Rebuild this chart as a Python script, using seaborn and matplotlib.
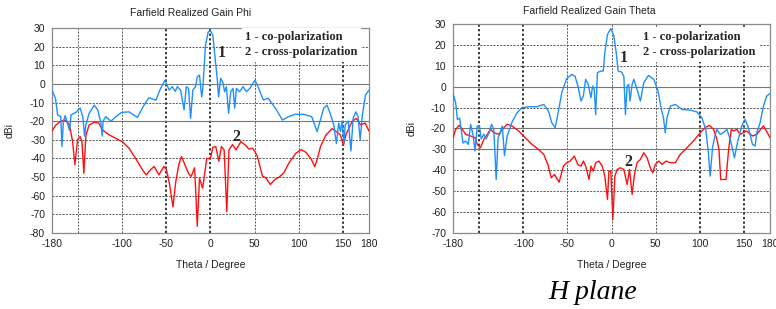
import matplotlib

matplotlib.use("Agg")
import matplotlib.pyplot as plt
import pandas as pd
import seaborn as sns

# Left panel: Farfield Realized Gain Phi
phi_co_theta = [-180, -176, -173.6, -170, -168.7, -167, -165, -162, -160, -158.5, -153, -148, -145, -143,
                -141.5, -138, -132, -128, -124.5, -123, -122, -119, -113, -107.5, -101, -92.5, -83, -75.5,
                -70, -62, -56.6, -51.7, -47, -43.4, -40, -37.7, -34, -30, -27.5, -25, -22.6, -20, -17, -15,
                -12.5, -10, -8.7, -5.7, -2.6, 0, 2.7, 5.3, 7.6, 9.2, 11.5, 14, 16, 18, 20.6, 23, 25.6, 27.5,
                29.4, 33, 37, 40.8, 44.7, 50.4, 54, 60, 65.6, 75, 81.7, 88.5, 96, 105.7, 115, 121, 124.8,
                128.6, 132.4, 136, 140, 143, 145.6, 147.6, 149.5, 151.5, 153, 156.5, 159.5, 162, 165, 167.6,
                170, 172.5, 176, 180]
phi_co_gain = [-3.3, -7.8, -16.7, -17.6, -33.6, -20, -17, -22, -25, -16.7, -15.3, -13, -17.6, -28, -22, -16,
               -11.4, -14, -21, -28, -20, -17.6, -20, -17.6, -15.3, -15, -18, -11.4, -7.4, -8.7, -2.4, 2,
               -3.3, -1.5, -4, -1.5, -3.3, -14, -1.5, -2.4, -18.5, -3.3, -1.5, 3.8, 4.7, -7, -2.4, 20.7, 27.9,
               28.5, 26, 13.6, 3, -7, 3, 1, -4.2, -1.5, -15.8, -4.2, -2.4, -13, -2.4, -4.2, -1.5, -4.2, -2.4,
               2, -1.5, -8.6, -7.7, -14, -19.4, -17.6, -16.3, -16.3, -17.6, -25.6, -19.4, -13, -11.4, -16,
               -22, -32, -21, -25.6, -20, -32, -22, -20, -36, -18.5, -15, -17.6, -30, -16.7, -6, -3.3]
phi_cross_theta = [-180, -175.5, -170, -165, -160, -156.6, -154, -151, -148, -146, -143.8, -141.5, -137.7,
                   -132, -127, -122.6, -115, -107.5, -100, -92.5, -85, -77.4, -73, -68, -64, -58.5, -53, -50,
                   -46.4, -42.6, -39.6, -36, -33, -29, -25, -22, -18, -15, -12.5, -9, -6.8, -4.3, 0, 2.7, 6,
                   9.5, 12.5, 15.5, 18.5, 21, 25, 29, 34.5, 40, 43.5, 48, 53, 59, 63, 68, 73, 78, 83.6, 89, 97,
                   103, 108, 114, 118.5, 121.5, 125, 131, 138, 144, 147.6, 151, 154, 161, 165.6, 170.5, 175.6,
                   180]
phi_cross_gain = [-25.3, -22, -20, -19.4, -22, -31, -43.4, -30, -28.3, -31, -48, -27.4, -22, -20.6, -21,
                  -24.7, -27.4, -29.2, -31, -34.5, -40, -46, -48.8, -46, -44.3, -48.8, -44.3, -46, -54, -66,
                  -53, -43.4, -39, -43.4, -48, -49.7, -45, -76.4, -50.6, -56, -48.8, -40, -40, -34, -33.6,
                  -41.5, -33.6, -35.4, -68.5, -35.4, -32.6, -35.4, -31, -33, -35, -34.5, -38.5, -49.5, -50.5,
                  -54, -51.3, -50, -47.5, -42.5, -37.2, -35.3, -36.6, -40, -44.5, -40, -33.5, -27.5, -24, -26,
                  -27.4, -33, -27, -20, -18.5, -22, -21, -25.3]

# Right panel: Farfield Realized Gain Theta
theta_co_theta = [-180, -177, -175, -172.5, -170, -168.7, -165.7, -162.7, -160, -157.4, -155, -152.5, -150,
                  -148, -145, -142.4, -139, -136.3, -133.7, -131, -128.8, -127, -124, -121.6, -118.6, -113,
                  -107.3, -101.7, -94, -84.7, -77, -71.6, -67.8, -64, -61, -56.5, -51, -45, -41.4, -37.7,
                  -34.7, -32, -29.4, -26.4, -23.4, -21.5, -19.6, -18, -16, -12, -9.4, -7.6, -4.6, -0.8, 2.6,
                  5.3, 7.5, 11.3, 14, 15.8, 17.7, 19.6, 21, 23.4, 25.3, 29, 32.8, 36.6, 42, 48, 52.8, 56.6, 59,
                  61, 63, 66.8, 72.5, 80, 89.4, 97, 102.6, 107, 110, 112, 114.7, 117, 119.6, 123.4, 127, 131,
                  134.7, 139.6, 143.4, 147.9, 151.7, 154.7, 157.4, 160, 163, 165, 168.7, 172.5, 176.3, 180]
theta_co_gain = [-3.2, -7.7, -15.7, -15, -22.8, -27, -26, -27.6, -18, -22.8, -30.8, -18.8, -18.8, -25, -22.8,
                 -25, -22, -18, -20.4, -44.4, -24.4, -22.8, -18.8, -33, -23.6, -17, -12.5, -10, -9.6, -9.6,
                 -8.5, -11.7, -17.3, -19.6, -13.3, -2.9, 3.8, 5.9, 5, -0.5, -6.9, -4.5, 3.5, 1, -5.3, 0.3,
                 -1.3, -13.3, 6.7, 7.5, 7.5, 16.3, 25, 27.8, 24.3, 16.3, 7.5, 7, 5, -13.3, 0.3, 1.1, -6.9, 1.1,
                 3.5, -1.3, -6.9, 1.9, 5.4, 3.5, -2, -10.9, -14.9, -22, -14.9, -9.3, -8.5, -10.9, -11.2, -12.1,
                 -14.9, -20.4, -31.6, -42.8, -29.2, -24.4, -20.4, -22.8, -22, -20.4, -25, -34, -26, -18.8,
                 -15.7, -18.8, -22.8, -27.6, -28.4, -22, -17.3, -9.3, -4.5, -3.2]
theta_cross_theta = [-180, -177, -173, -169.5, -165.7, -160, -155, -152.5, -148.8, -145, -141, -137.5,
                     -133.7, -128, -124, -118.6, -113, -105.5, -98, -90.4, -83, -77, -72.3, -68.5, -64.8,
                     -59.5, -54.6, -51, -47, -42.2, -38.4, -34.7, -32, -29.4, -25.6, -23.4, -20.7, -18,
                     -14.3, -10.6, -7.6, -4.6, -3, -0.8, 1.5, 3.8, 6.4, 10, 14, 17.7, 20.4, 23.4, 26, 29,
                     32.8, 36.6, 40.4, 44, 46.8, 49.8, 53.6, 57.4, 62, 66.8, 72.5, 78, 85.7, 93, 100.8, 106.4,
                     111, 116, 119.6, 122, 124, 130, 133, 136, 138.6, 142.4, 146, 149.8, 153.5, 157.4, 160.4,
                     165, 169.4, 172.5, 176, 180]
theta_cross_gain = [-24.4, -20.4, -18.5, -20.4, -22.8, -23.6, -24.4, -27.6, -29.2, -25.2, -22.8, -20.4, -22,
                    -22.8, -20.4, -18, -18.8, -21.2, -24.4, -27.6, -30, -32.4, -37.2, -43.6, -42, -45.7, -38,
                    -36.4, -35.6, -33.2, -37.2, -38, -35.6, -38, -44.4, -38, -40.4, -36.4, -35.6, -38, -42.8,
                    -54, -40.4, -40.4, -63.6, -42.8, -39.6, -38.8, -39.6, -46.8, -39.6, -51.6, -42, -36.4,
                    -34.8, -31.6, -34, -38.8, -41.2, -37.2, -35.6, -37.2, -35.6, -36.4, -36.4, -32.4, -29.2,
                    -26, -22, -19.6, -18.5, -20.4, -25.2, -30, -44.4, -44.4, -30, -20.4, -21.2, -20.4, -22.8,
                    -22, -21.2, -22.8, -23.6, -22.8, -20.4, -18.8, -21.2, -24.4]

x_ticks = [-180, -100, -50, 0, 50, 100, 150, 180]
BLUE = "#1E8FFF"
RED = "#FF1010"

sns.set_theme(style="white")
plt.rcParams["font.family"] = ["Liberation Sans", "DejaVu Sans"]
plt.rcParams["axes.unicode_minus"] = False

fig = plt.figure(figsize=(7.76, 3.09), dpi=100)
ax_l = fig.add_axes([0.067, 0.246, 0.4085, 0.6634])
ax_r = fig.add_axes([0.5838, 0.246, 0.4085, 0.6764])


def _draw_grid(ax, y_ticks, bold_x, solid_y):
    for x in [-150, -100, -50, 0, 50, 100, 150]:
        if x in bold_x:
            ax.axvline(x, color="black", lw=1.1, ls=(0, (1.5, 1.5)), zorder=1)
        else:
            ax.axvline(x, color="#444444", lw=0.6, ls=(0, (2.5, 1.5)), zorder=1)
    for y in y_ticks[1:-1]:
        if y in solid_y:
            ax.axhline(y, color="#777777", lw=0.8, zorder=1)
        else:
            ax.axhline(y, color="#444444", lw=0.6, ls=(0, (2.5, 1.5)), zorder=1)


def _panel(ax, co_t, co_g, cr_t, cr_g, y_ticks, bold_x, solid_y, one_pos, two_pos, legend_pos, ylab_x, xlab_y):
    co = pd.DataFrame({"theta": co_t, "gain": co_g})
    cr = pd.DataFrame({"theta": cr_t, "gain": cr_g})
    _draw_grid(ax, y_ticks, bold_x, solid_y)
    sns.lineplot(data=cr, x="theta", y="gain", color=RED, lw=1.0, sort=False, ax=ax, zorder=3)
    sns.lineplot(data=co, x="theta", y="gain", color=BLUE, lw=1.0, sort=False, ax=ax, zorder=4)
    ax.set_xlim(-180, 180)
    ax.set_ylim(y_ticks[0], y_ticks[-1])
    ax.set_xticks(x_ticks)
    ax.set_yticks(y_ticks)
    ax.tick_params(length=0, labelsize=7.5, colors="#222222")
    ax.tick_params(axis="y", pad=5)
    ax.tick_params(axis="x", pad=4)
    for spine in ax.spines.values():
        spine.set_color("#8a8a8a")
        spine.set_linewidth(0.9)
    ax.set_xlabel("Theta / Degree", fontsize=7.5, color="#222222")
    ax.set_ylabel("dBi", fontsize=7.5, color="#222222")
    ax.xaxis.set_label_coords(0.5, xlab_y)
    ax.yaxis.set_label_coords(ylab_x, 0.5)
    ax.text(legend_pos[0], legend_pos[1], "1 - co-polarization\n2 - cross-polarization",
            transform=ax.transAxes, ha="left", va="top", fontsize=9, fontweight="bold",
            family="Liberation Serif", linespacing=1.35, zorder=5,
            bbox=dict(facecolor="white", edgecolor="none", pad=2.5))
    ax.text(one_pos[0], one_pos[1], "1", ha="center", va="center", fontsize=11.5,
            fontweight="bold", family="Liberation Serif", zorder=6)
    ax.text(two_pos[0], two_pos[1], "2", ha="center", va="center", fontsize=11.5,
            fontweight="bold", family="Liberation Serif", zorder=6)


_panel(ax_l, phi_co_theta, phi_co_gain, phi_cross_theta, phi_cross_gain,
       list(range(-80, 31, 10)), bold_x=[-50, 0, 150], solid_y=[0, -20],
       one_pos=(13, 16.6), two_pos=(29, -28.5), legend_pos=(0.61, 0.985),
       ylab_x=-0.119, xlab_y=-0.13)
_panel(ax_r, theta_co_theta, theta_co_gain, theta_cross_theta, theta_cross_gain,
       list(range(-70, 31, 10)), bold_x=[-150, -100, 100, 150], solid_y=[0, -20, -30],
       one_pos=(14, 13.7), two_pos=(18.7, -36), legend_pos=(0.60, 0.965),
       ylab_x=-0.114, xlab_y=-0.128)

fig.text(0.245, 0.958, "Farfield Realized Gain Phi", ha="center", va="center", fontsize=7.5, color="#222222")
fig.text(0.759, 0.964, "Farfield Realized Gain Theta", ha="center", va="center", fontsize=7.5, color="#222222")
fig.text(0.764, 0.055, "H plane", ha="center", va="center", fontsize=20, style="italic",
         family="Liberation Serif", color="black")

fig.savefig("out.png", dpi=100)
